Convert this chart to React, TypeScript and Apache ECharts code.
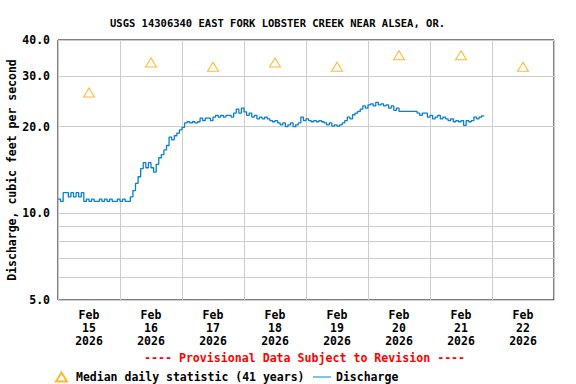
import React, { useEffect, useRef } from "react";
import * as echarts from "echarts";

const titleText = "USGS 14306340 EAST FORK LOBSTER CREEK NEAR ALSEA, OR.";
const yAxisTitle = "Discharge, cubic feet per second";
const provisionalText = "---- Provisional Data Subject to Revision ----";
const medianName = "Median daily statistic (41 years)";
const dischargeName = "Discharge";

const dayLabels = [
  "Feb\n15\n2026",
  "Feb\n16\n2026",
  "Feb\n17\n2026",
  "Feb\n18\n2026",
  "Feb\n19\n2026",
  "Feb\n20\n2026",
  "Feb\n21\n2026",
  "Feb\n22\n2026",
];
const hoursPerDay = 24;

const yGridValues = [5, 6, 7, 8, 9, 10, 20, 30, 40];
const yLabelValues = [5, 10, 20, 30, 40];

// median daily statistic, plotted at noon of each day (hours since Feb 15 00:00)
const medianHours = [12, 36, 60, 84, 108, 132, 156, 180];
const medianValues = [26.3, 33.4, 32.3, 33.4, 32.3, 35.4, 35.4, 32.3];

// hourly discharge (cfs) starting Feb 15 00:00
const dischargeValues = [
  11.2, 11.0, 11.8, 11.8, 11.4, 11.8, 11.4, 11.8, 11.4, 11.8,
  11.0, 11.2, 11.0, 11.2, 11.0, 11.0, 11.2, 11.0, 11.2, 11.0,
  11.2, 11.0, 11.0, 11.2, 11.0, 11.2, 11.0, 11.0, 11.4, 12.0,
  12.7, 13.4, 14.3, 15.0, 14.4, 15.0, 14.4, 13.9, 14.8, 15.6,
  16.0, 16.6, 17.2, 18.4, 18.0, 18.6, 19.0, 19.5, 19.9, 20.6,
  20.8, 20.6, 20.8, 20.6, 20.8, 21.4, 21.0, 21.4, 21.4, 21.0,
  21.6, 21.9, 21.6, 21.9, 21.6, 21.9, 21.9, 21.6, 22.3, 23.0,
  22.3, 23.2, 22.5, 21.9, 22.3, 21.6, 21.9, 21.3, 21.6, 21.3,
  21.6, 21.3, 21.0, 20.8, 21.0, 20.6, 20.3, 20.6, 20.0, 20.3,
  20.6, 20.0, 20.3, 20.6, 21.6, 21.0, 21.3, 21.0, 20.8, 21.0,
  20.8, 21.0, 20.8, 20.6, 20.3, 20.6, 20.1, 20.3, 20.1, 20.3,
  20.6, 21.0, 21.6, 21.3, 22.0, 22.3, 22.6, 23.0, 23.6, 23.2,
  23.8, 24.0, 23.6, 24.3, 23.8, 24.0, 23.6, 23.8, 23.2, 23.6,
  22.8, 23.2, 22.6, 22.6, 22.6, 22.6, 22.6, 22.6, 22.6, 22.3,
  21.9, 22.3, 22.3, 21.6, 21.9, 21.3, 21.6, 21.9, 21.3, 21.6,
  21.3, 21.0, 21.3, 20.8, 21.0, 20.8, 21.0, 20.2, 21.0, 20.8,
  21.0, 21.6, 21.3, 21.6, 21.8, 21.8,
];

const FONT = "DejaVu Sans Mono";

export default function App() {
  const ref = useRef<HTMLDivElement>(null);

  useEffect(() => {
    if (!ref.current) return;
    const chart = echarts.init(ref.current, undefined, { renderer: "svg" });

    const dischargeData = dischargeValues.map((v, i) => [i, v]);
    const medianData = medianHours.map((h, i) => [h, medianValues[i]]);

    const option: any = {
      animation: false,
      backgroundColor: "#fff",
      textStyle: { fontFamily: FONT },
      title: {
        text: titleText,
        left: 105,
        top: 12,
        textStyle: {
          fontFamily: FONT,
          fontSize: 10.5,
          fontWeight: "bold",
          color: "#000",
        },
      },
      grid: {
        left: 58,
        top: 40,
        width: 496,
        height: 260,
        show: true,
        borderColor: "#000",
        borderWidth: 1,
        backgroundColor: "transparent",
        containLabel: false,
        outerBoundsMode: "none",
      },
      xAxis: [
        {
          type: "category",
          data: dayLabels,
          boundaryGap: true,
          axisLine: { show: false },
          axisTick: { show: false },
          splitLine: { show: true, lineStyle: { color: "#cccccc", width: 1 } },
          axisLabel: {
            margin: 8,
            fontFamily: FONT,
            fontSize: 11.5,
            fontWeight: "bold",
            color: "#000",
            lineHeight: 13,
            interval: 0,
          },
        },
        {
          type: "value",
          min: 0,
          max: dayLabels.length * hoursPerDay,
          show: false,
        },
      ],
      yAxis: {
        type: "log",
        logBase: 10,
        min: 5,
        max: 40,
        axisLine: { show: false },
        axisTick: { show: false },
        axisLabel: { show: false },
        splitLine: { show: false },
        name: yAxisTitle,
        nameLocation: "middle",
        nameRotate: 90,
        nameGap: 40,
        nameTextStyle: {
          fontFamily: FONT,
          fontSize: 11.5,
          fontWeight: "bold",
          color: "#000",
        },
      },
      legend: [
        {
          left: 50,
          top: 366,
          itemWidth: 11,
          itemHeight: 9,
          data: [medianName],
          textStyle: {
            fontFamily: FONT,
            fontSize: 11.5,
            fontWeight: "bold",
            color: "#000",
            padding: [0, 0, 0, 4],
          },
        },
        {
          left: 308,
          top: 366,
          itemWidth: 18,
          itemHeight: 1,
          data: [{ name: dischargeName, icon: "rect" }],
          textStyle: {
            fontFamily: FONT,
            fontSize: 11.5,
            fontWeight: "bold",
            color: "#000",
          },
        },
      ],
      graphic: [
        {
          type: "text",
          left: 144,
          top: 352,
          style: {
            text: provisionalText,
            fill: "#ff0000",
            font: `bold 11.6px "${FONT}"`,
          },
        },
      ],
      series: [
        {
          name: "grid",
          type: "line",
          data: [],
          xAxisIndex: 1,
          yAxisIndex: 0,
          silent: true,
          z: 1,
          markLine: {
            silent: true,
            symbol: "none",
            z: 1,
            animation: false,
            lineStyle: { color: "#cccccc", type: "solid", width: 1 },
            label: {
              position: "start",
              distance: 8,
              fontFamily: FONT,
              fontSize: 11.5,
              fontWeight: "bold",
              color: "#000",
            },
            data: yGridValues.map((v) => ({
              yAxis: v,
              label: {
                show: yLabelValues.includes(v),
                formatter: v.toFixed(1),
              },
            })),
          },
        },
        {
          name: dischargeName,
          type: "line",
          xAxisIndex: 1,
          yAxisIndex: 0,
          data: dischargeData,
          step: "end",
          symbol: "none",
          showSymbol: false,
          z: 3,
          lineStyle: { color: "#0a7fd0", width: 1.3 },
          itemStyle: { color: "#0a7fd0" },
        },
        {
          name: medianName,
          type: "scatter",
          xAxisIndex: 1,
          yAxisIndex: 0,
          data: medianData,
          symbol: "triangle",
          symbolSize: [11, 9],
          z: 4,
          itemStyle: {
            color: "rgba(255,255,255,0)",
            borderColor: "#ffa500",
            borderWidth: 1,
          },
        },
      ],
    };

    chart.setOption(option);
    return () => chart.dispose();
  }, []);

  return (
    <div
      ref={ref}
      style={{ width: 576, height: 384, position: "absolute", left: 0, top: 0 }}
    />
  );
}
